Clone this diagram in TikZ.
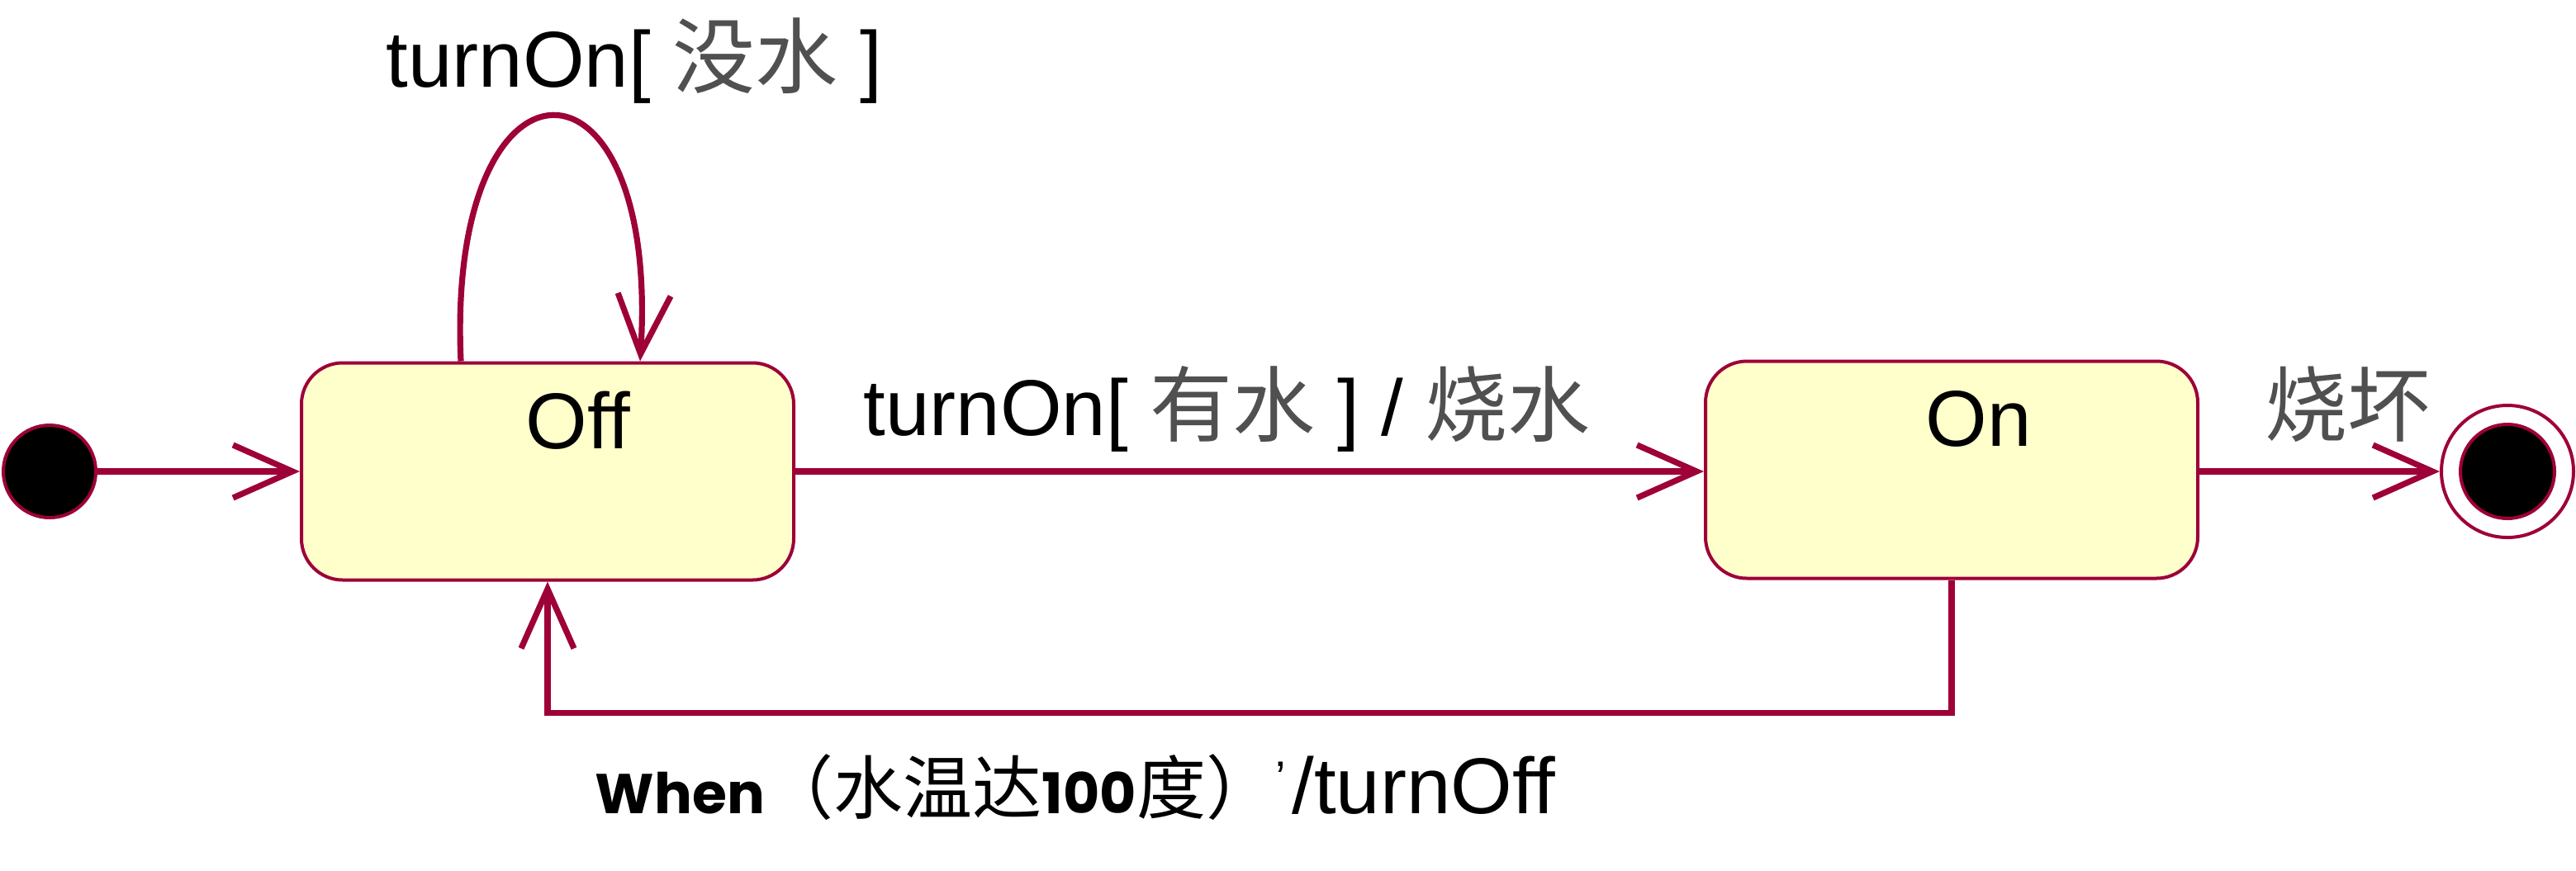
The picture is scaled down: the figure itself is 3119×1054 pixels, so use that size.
\documentclass[tikz,border=0pt]{standalone}
\usepackage{fontspec}
\setmainfont{Liberation Sans}
\newfontfamily\cjk{Noto Sans CJK SC}
\newfontfamily\popfont{Poppins}
\usetikzlibrary{arrows.meta}
\definecolor{umlred}{RGB}{158,0,56}
\definecolor{statefill}{RGB}{255,255,204}
\definecolor{cjkgray}{RGB}{80,80,80}
\newcommand\zhg[1]{{\cjk\fontsize{25}{30}\selectfont\color{cjkgray}#1}}
\newcommand\zhb[1]{{\cjk\fontsize{21}{25}\selectfont #1}}
\newcommand\popb[1]{{\popfont\bfseries\fontsize{17}{20}\selectfont #1}}
\begin{document}
\begin{tikzpicture}[x=0.25pt,y=-0.25pt,
  statebox/.style={draw=umlred, line width=1pt, fill=statefill, rounded corners=12.5pt,
    minimum width=149pt, minimum height=65.75pt, inner sep=0pt},
  trans/.style={draw=umlred, line width=1.8pt, -{Straight Barb[length=18pt,width=16pt]}},
  lbl/.style={font=\fontsize{24}{28}\selectfont, inner sep=0pt, anchor=base west},
  statename/.style={font=\fontsize{24}{28}\selectfont, inner sep=0pt, anchor=base},
]
\useasboundingbox (0,0) rectangle (3119,1054);

% nodes
\node[circle, draw=umlred, line width=1pt, fill=black, minimum size=28pt, inner sep=0pt] (init) at (60,571) {};
\node[statebox] (off) at (663,571) {};
\node[statename] (offname) at (700,543) {Off};
\node[statebox] (on) at (2363,569) {};
\node[statename] (onname) at (2396,540) {On};
\node[circle, draw=umlred, line width=1pt, fill=white, minimum size=40pt, inner sep=0pt] (final) at (3036,571) {};
\node[circle, draw=umlred, line width=1pt, fill=black, minimum size=28.5pt, inner sep=0pt] (finalin) at (final.center) {};

% connectors
\draw[trans] (init) -- (off.west);
\draw[trans] ([xshift=-26.25pt]off.north) .. controls (540,42) and (800,42) .. ([xshift=28pt]off.north);
\draw[trans] (off.east) -- (on.west |- off.east);
\draw[trans] (on.east |- final.west) -- (final.west);
\draw[trans] (on.south) -- ++(0,161) -| (off.south);

% labels
\node[lbl] (looplbl) at (467,105) {turnOn[ \zhg{没水} ]};
\node[lbl] (onlbl) at (1045,527) {turnOn[ \zhg{有水} ] / \zhg{烧水}};
\node[lbl] (finlbl) at (2742,527) {\zhg{烧坏}};
\node[lbl] (offlbl) at (720,985) {\popb{When}\zhb{（水温达}\popb{100}\zhb{度）}{\fontsize{14}{16}\selectfont\raisebox{6pt}{'}}\hspace{2pt}/turnOff};
\end{tikzpicture}
\end{document}
